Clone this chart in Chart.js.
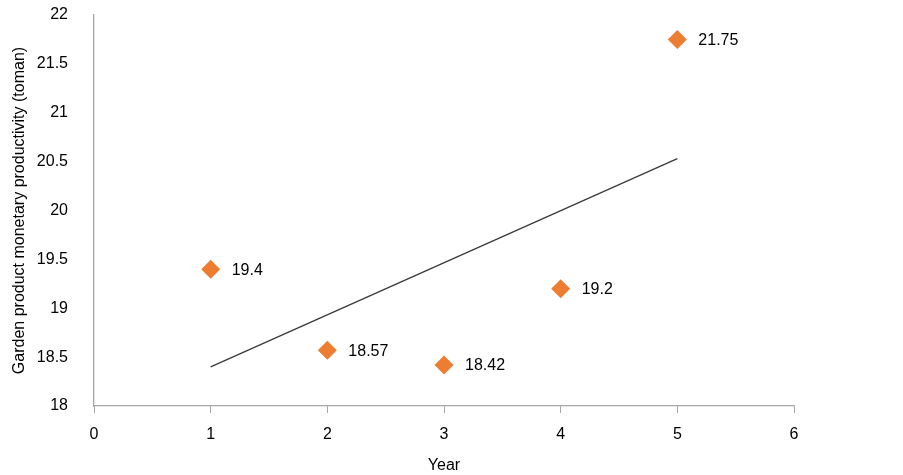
<!DOCTYPE html>
<html>
<head>
<meta charset="utf-8">
<script src="https://cdn.jsdelivr.net/npm/chart.js@4/dist/chart.umd.min.js"></script>
<style>
  html, body { margin: 0; padding: 0; background: #fff; }
  #wrap { width: 903px; height: 475px; }
</style>
</head>
<body>
<div id="wrap"><canvas id="prodChart" width="903" height="475"></canvas></div>
<script>
var years = [1, 2, 3, 4, 5];
var productivity = [19.4, 18.57, 18.42, 19.2, 21.75];
var trendYears = [1, 5];
var trendValues = [18.40, 20.53];
var xTicks = [0, 1, 2, 3, 4, 5, 6];
var yTicks = [18, 18.5, 19, 19.5, 20, 20.5, 21, 21.5, 22];

var pointData = years.map(function (x, i) {
    return { x: x, y: productivity[i] };
});
var trendData = trendYears.map(function (x, i) {
    return { x: x, y: trendValues[i] };
});

// simple value labels to the right of each diamond
var valueLabels = {
    id: 'valueLabels',
    afterDatasetsDraw: function (chart) {
        var ctx = chart.ctx;
        var meta = chart.getDatasetMeta(0);
        ctx.save();
        ctx.font = '16px "Liberation Sans", Arial, sans-serif';
        ctx.fillStyle = '#000';
        ctx.textAlign = 'left';
        ctx.textBaseline = 'middle';
        meta.data.forEach(function (pt, i) {
            ctx.fillText(String(productivity[i]), pt.x + 21, pt.y + 1);
        });
        ctx.restore();
    }
};

var ctx = document.getElementById('prodChart').getContext('2d');
var prodChart = new Chart(ctx, {
    type: 'scatter',
    data: {
        datasets: [{
            label: 'Productivity',
            data: pointData,
            pointStyle: 'rectRot',
            pointRadius: 9.5,
            pointHoverRadius: 9.5,
            backgroundColor: '#ED7D31',
            borderColor: '#ED7D31',
            borderWidth: 0
        }, {
            type: 'line',
            label: 'Trend',
            data: trendData,
            borderColor: '#3a3a3a',
            borderWidth: 1.3,
            pointRadius: 0,
            fill: false
        }]
    },
    options: {
        responsive: false,
        maintainAspectRatio: false,
        animation: false,
        layout: { autoPadding: false, padding: { left: 0, right: 109, top: 15, bottom: 0 } },
        plugins: {
            legend: { display: false },
            tooltip: { enabled: false }
        },
        scales: {
            x: {
                type: 'linear',
                min: 0,
                max: 6,
                afterBuildTicks: function (axis) {
                    axis.ticks = xTicks.map(function (v) { return { value: v }; });
                },
                grid: { display: true, drawOnChartArea: false, drawTicks: true, tickLength: 7, color: '#a6a6a6' },
                border: { display: true, color: '#a6a6a6', width: 1.3 },
                ticks: {
                    padding: 12,
                    color: '#000',
                    font: { family: '"Liberation Sans", Arial, sans-serif', size: 16 },
                    callback: function (v) { return String(v); }
                },
                title: {
                    display: true,
                    text: 'Year',
                    color: '#000',
                    font: { family: '"Liberation Sans", Arial, sans-serif', size: 16 },
                    padding: { top: 4, bottom: 0 }
                },
                afterFit: function (axis) { axis.height = 69; }
            },
            y: {
                type: 'linear',
                min: 18,
                max: 22,
                afterBuildTicks: function (axis) {
                    axis.ticks = yTicks.map(function (v) { return { value: v }; });
                },
                grid: { display: false, drawTicks: false },
                border: { display: true, color: '#a6a6a6', width: 1.3 },
                ticks: {
                    padding: 26,
                    color: '#000',
                    font: { family: '"Liberation Sans", Arial, sans-serif', size: 16 },
                    callback: function (v) { return String(v); }
                },
                title: {
                    display: true,
                    text: 'Garden product monetary productivity (toman)',
                    color: '#000',
                    font: { family: '"Liberation Sans", Arial, sans-serif', size: 16 },
                    padding: { top: 10, bottom: 0 }
                },
                afterFit: function (axis) {
                    axis.width = 94;
                    axis.paddingTop = 0;
                    axis.paddingBottom = 0;
                }
            }
        }
    },
    plugins: [valueLabels]
});
</script>
</body>
</html>
